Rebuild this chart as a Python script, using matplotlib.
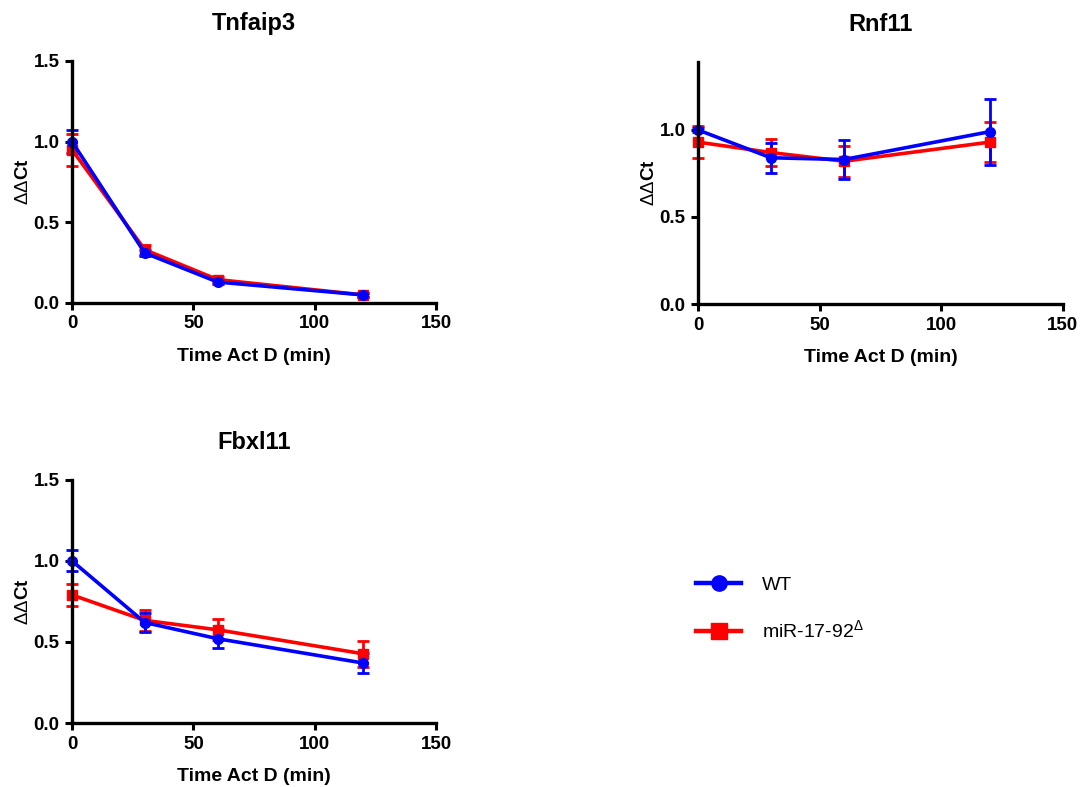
import matplotlib
matplotlib.use("Agg")
import matplotlib.pyplot as plt
from matplotlib.lines import Line2D

plt.rcParams['font.family'] = ['Liberation Sans', 'DejaVu Sans']
plt.rcParams['mathtext.fontset'] = 'custom'
plt.rcParams['mathtext.rm'] = 'Liberation Sans'
plt.rcParams['mathtext.bf'] = 'Liberation Sans:bold'

time = [0, 30, 60, 120]

# Tnfaip3
tnf_wt = [1.00, 0.31, 0.13, 0.05]
tnf_wt_err = [0.07, 0.02, 0.015, 0.01]
tnf_ko = [0.95, 0.33, 0.145, 0.05]
tnf_ko_err = [0.10, 0.03, 0.015, 0.01]

# Rnf11
rnf_wt = [1.00, 0.84, 0.83, 0.99]
rnf_wt_err = [0.01, 0.085, 0.11, 0.19]
rnf_ko = [0.93, 0.87, 0.82, 0.93]
rnf_ko_err = [0.09, 0.08, 0.09, 0.115]

# Fbxl11
fbx_wt = [1.00, 0.62, 0.52, 0.37]
fbx_wt_err = [0.065, 0.06, 0.057, 0.06]
fbx_ko = [0.79, 0.633, 0.575, 0.427]
fbx_ko_err = [0.07, 0.065, 0.065, 0.08]

panels = [
    ("Tnfaip3", tnf_wt, tnf_wt_err, tnf_ko, tnf_ko_err, [0.0663, 0.615, 0.3352, 0.3075], 1.5),
    ("Rnf11", rnf_wt, rnf_wt_err, rnf_ko, rnf_ko_err, [0.6427, 0.6137, 0.336, 0.3075], 1.39),
    ("Fbxl11", fbx_wt, fbx_wt_err, fbx_ko, fbx_ko_err, [0.0663, 0.0813, 0.3352, 0.309], 1.5),
]

fig = plt.figure(figsize=(10.86, 7.87), dpi=100)

for title, wt, wt_err, ko, ko_err, rect, ytop in panels:
    ax = fig.add_axes(rect)
    ax.errorbar(time, ko, yerr=ko_err, color='#ff0000', lw=2.6, marker='s', ms=7,
                capsize=4.5, capthick=2, elinewidth=2, clip_on=False)
    ax.errorbar(time, wt, yerr=wt_err, color='#0000ff', lw=2.6, marker='o', ms=7,
                capsize=4.5, capthick=2, elinewidth=2, clip_on=False)
    ax.set_xlim(0, 150)
    ax.set_ylim(0, ytop)
    ax.set_xticks([0, 50, 100, 150])
    yt = [0.0, 0.5, 1.0, 1.5] if ytop >= 1.5 else [0.0, 0.5, 1.0]
    ax.set_yticks(yt)
    ax.set_yticklabels(['%.1f' % v for v in yt])
    for s in ['top', 'right']:
        ax.spines[s].set_visible(False)
    for s in ['left', 'bottom']:
        ax.spines[s].set_linewidth(2.4)
    ax.tick_params(width=2.2, length=5, labelsize=13.5, direction='out', pad=4)
    for lbl in ax.get_xticklabels() + ax.get_yticklabels():
        lbl.set_fontweight('bold')
    ax.set_title(title, fontsize=17, fontweight='bold', pad=22)
    ax.set_xlabel('Time Act D (min)', fontsize=14, fontweight='bold', labelpad=11)
    ax.set_ylabel(r'$\Delta\Delta\mathbf{Ct}$', fontsize=13.5, labelpad=1)

handles = [
    Line2D([], [], color='#0000ff', lw=3.2, marker='o', ms=11),
    Line2D([], [], color='#ff0000', lw=3.2, marker='s', ms=11),
]
fig.legend(handles, ['WT', r'miR-17-92$^{\Delta}$'], loc='center left',
           bbox_to_anchor=(0.625, 0.226), frameon=False, fontsize=14,
           handlelength=2.3, labelspacing=1.3, handletextpad=1.1)

fig.savefig('out.png', dpi=100)
